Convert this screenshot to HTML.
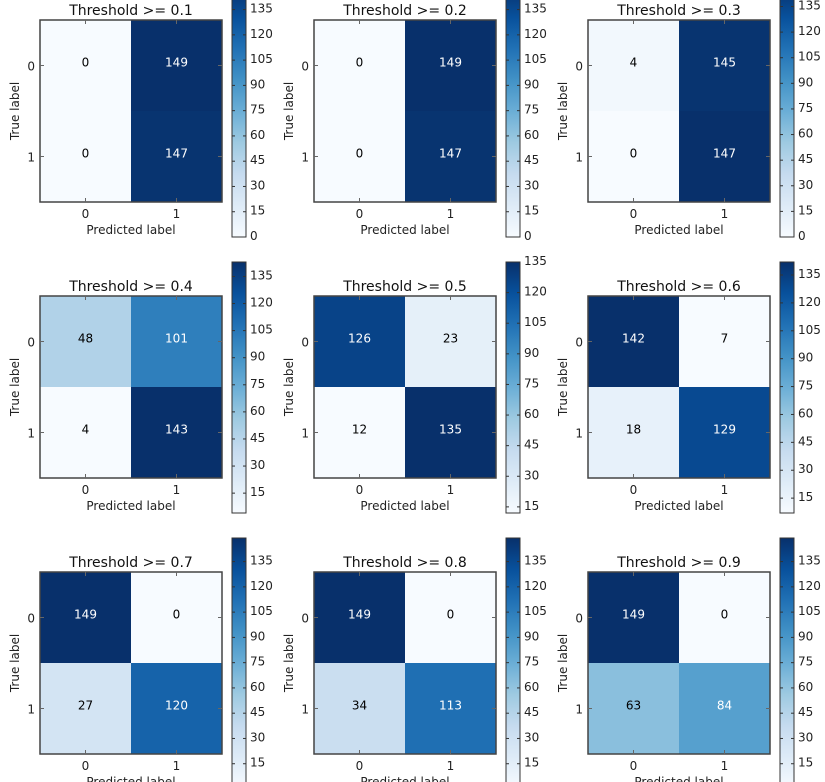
<!DOCTYPE html>
<html><head><meta charset="utf-8"><style>
html,body{margin:0;padding:0;background:#fff;}
svg{display:block;font-family:"DejaVu Sans","Liberation Sans",sans-serif;}
</style></head><body>
<svg id="fig" width="825" height="782" viewBox="0 0 825 782" xmlns="http://www.w3.org/2000/svg"></svg>
<script>
const thresholds = ["0.1","0.2","0.3","0.4","0.5","0.6","0.7","0.8","0.9"];
const tnValues = [0,0,4,48,126,142,149,149,149];
const fpValues = [149,149,145,101,23,7,0,0,0];
const fnValues = [0,0,0,4,12,18,27,34,63];
const tpValues = [147,147,147,143,135,129,120,113,84];
const classLabels = ["0","1"];

const NS="http://www.w3.org/2000/svg";
const svg=document.getElementById('fig');
const stops=["#f7fbff","#deebf7","#c6dbef","#9ecae1","#6baed6","#4292c6","#2171b5","#08519c","#08306b"];
function hex(h){return [1,3,5].map(i=>parseInt(h.substr(i,2),16));}
function blues(t){t=Math.max(0,Math.min(1,t));const s=t*8;const i=Math.min(7,Math.floor(s));const f=s-i;
 const a=hex(stops[i]),b=hex(stops[i+1]);return "rgb("+a.map((v,k)=>Math.round(v+(b[k]-v)*f)).join(",")+")";}
function el(tag,attrs,parent){const e=document.createElementNS(NS,tag);for(const k in attrs)e.setAttribute(k,attrs[k]);(parent||svg).appendChild(e);return e;}
function txt(s,attrs,parent){const e=el('text',attrs,parent);e.textContent=s;return e;}

const colX=[40,314,588], rowY=[20,296,572];
const W=182,H=182;
for(let p=0;p<9;p++){
  const ox=colX[p%3], oy=rowY[Math.floor(p/3)];
  const g=el('g',{});
  
  
  const m=[[tnValues[p],fpValues[p]],[fnValues[p],tpValues[p]]];
  const vals=[tnValues[p],fpValues[p],fnValues[p],tpValues[p]];
  const vmin=Math.min(...vals), vmax=Math.max(...vals);
  const cw=W/2,ch=H/2;
  for(let r=0;r<2;r++)for(let c=0;c<2;c++){
    const v=m[r][c];
    const cell=el('rect',{x:ox+c*cw,y:oy+r*ch,width:cw,height:ch,fill:blues((v-vmin)/(vmax-vmin))},g);
    
    
    const t=txt(String(v),{x:ox+c*cw+cw/2,y:oy+r*ch+ch/2+1,'text-anchor':'middle','font-size':12,fill:v>vmax/2?'#fff':'#000'},g);
    
    
  }
  const fr=el('rect',{x:ox,y:oy,width:W,height:H,fill:'none',stroke:'#444','stroke-width':1.5},g);
  
  
  for(let i=0;i<2;i++){
    const tx=ox+cw/2+i*cw, ty=oy+ch/2+i*ch;
    el('line',{x1:tx,y1:oy,x2:tx,y2:oy+4,stroke:'#666'},g);
    el('line',{x1:tx,y1:oy+H,x2:tx,y2:oy+H-4,stroke:'#666'},g);
    el('line',{x1:ox,y1:ty,x2:ox+4,y2:ty,stroke:'#666'},g);
    el('line',{x1:ox+W,y1:ty,x2:ox+W-4,y2:ty,stroke:'#666'},g);
    const xl=txt(classLabels[i],{x:tx,y:oy+H+16,'text-anchor':'middle','font-size':12,fill:'#222'},g);
    
    
    const yl=txt(classLabels[i],{x:ox-5,y:ty+5,'text-anchor':'end','font-size':12,fill:'#222'},g);
    
    
  }
  const ti=txt('Threshold >= '+thresholds[p],{x:ox+W/2,y:oy-5,'text-anchor':'middle','font-size':14,fill:'#111'},g);
  
  
  const xt=txt('Predicted label',{x:ox+W/2,y:oy+H+32,'text-anchor':'middle','font-size':12,fill:'#222'},g);
  
  
  const yt=txt('True label',{x:0,y:0,'text-anchor':'middle','font-size':12,fill:'#222',transform:'translate('+(ox-21)+','+(oy+H/2)+') rotate(-90)'},g);
  
  
  const cbx=ox+192, cbTop=oy-34, cbH=251, cbW=14;
  const defs=el('defs',{},g);
  const gid='grad'+p;
  const lg=el('linearGradient',{id:gid,x1:0,y1:1,x2:0,y2:0},defs);
  for(let k=0;k<=8;k++) el('stop',{offset:(k/8),'stop-color':stops[k]},lg);
  const cb=el('rect',{x:cbx,y:cbTop,width:cbW,height:cbH,fill:'url(#'+gid+')',stroke:'#333','stroke-width':1},g);
  
  
  const yScale=v=>cbTop+cbH-(v-vmin)/(vmax-vmin)*cbH;
  for(let tv=Math.ceil(vmin/15)*15; tv<=vmax; tv+=15){
    const y=yScale(tv);
    el('line',{x1:cbx,y1:y,x2:cbx+3,y2:y,stroke:'#333'},g);
    el('line',{x1:cbx+cbW,y1:y,x2:cbx+cbW-3,y2:y,stroke:'#333'},g);
    const cl=txt(String(tv),{x:cbx+cbW+4,y:y+3,'font-size':12,fill:'#222'},g);
    
    
  }
}
</script>
</body></html>
